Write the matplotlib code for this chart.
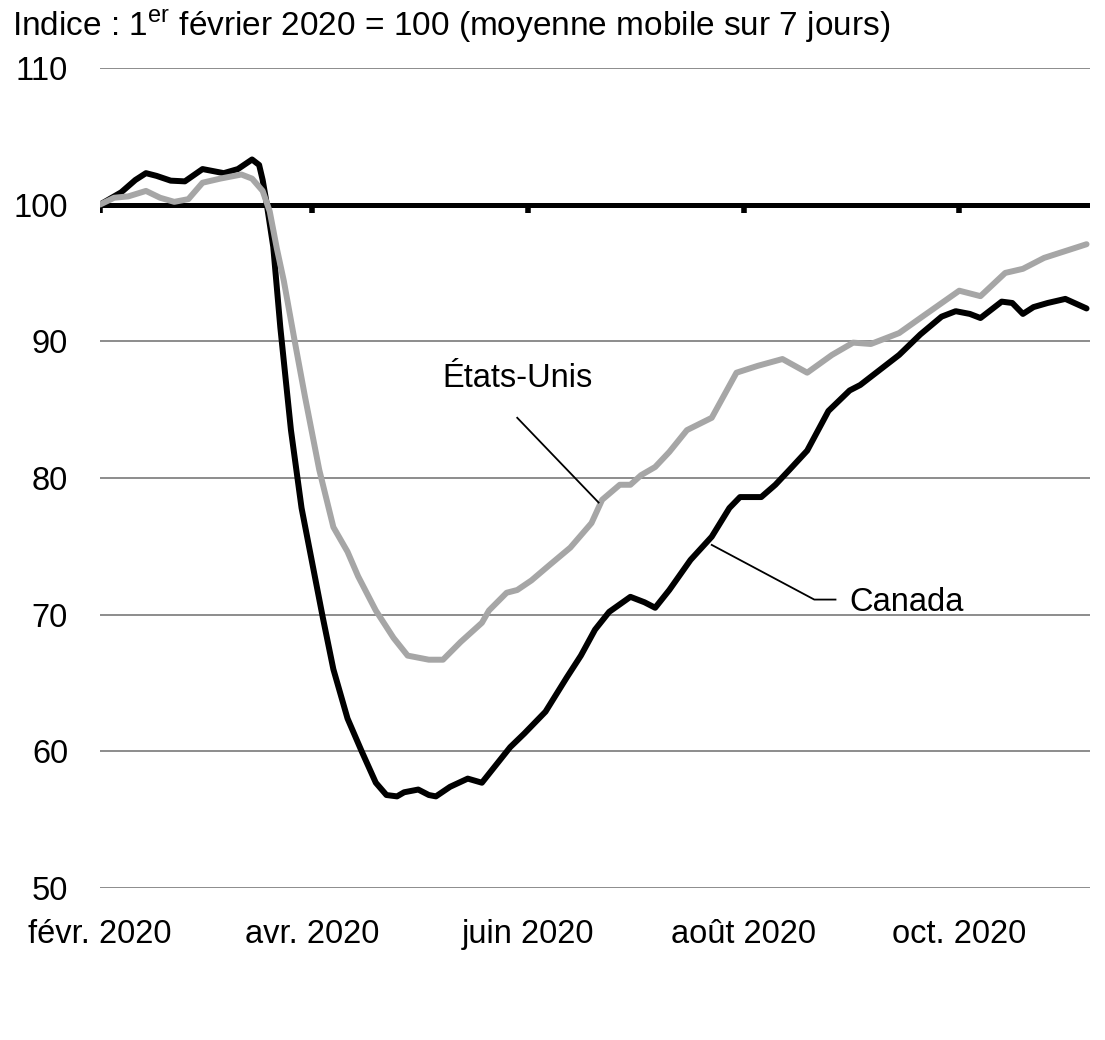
import pandas as pd
import matplotlib.pyplot as plt

plt.rcParams['font.family'] = ['Liberation Sans', 'DejaVu Sans']
plt.rcParams['mathtext.fontset'] = 'custom'
plt.rcParams['mathtext.rm'] = 'Liberation Sans'

# Canada, 7-day moving average (index: Feb 1 2020 = 100)
canada_dates = ["2020-02-01", "2020-02-07", "2020-02-11", "2020-02-14", "2020-02-17", "2020-02-21",
                "2020-02-25", "2020-03-01", "2020-03-07", "2020-03-11", "2020-03-15", "2020-03-17",
                "2020-03-18", "2020-03-19", "2020-03-21", "2020-03-23", "2020-03-26", "2020-03-29",
                "2020-04-01", "2020-04-04", "2020-04-07", "2020-04-11", "2020-04-15", "2020-04-19",
                "2020-04-22", "2020-04-25", "2020-04-27", "2020-05-01", "2020-05-04", "2020-05-06",
                "2020-05-10", "2020-05-15", "2020-05-19", "2020-05-23", "2020-05-27", "2020-05-31",
                "2020-06-06", "2020-06-12", "2020-06-16", "2020-06-20", "2020-06-24", "2020-06-30",
                "2020-07-04", "2020-07-07", "2020-07-11", "2020-07-17", "2020-07-23", "2020-07-28",
                "2020-07-31", "2020-08-06", "2020-08-10", "2020-08-14", "2020-08-19", "2020-08-25",
                "2020-08-31", "2020-09-03", "2020-09-09", "2020-09-14", "2020-09-20", "2020-09-26",
                "2020-09-30", "2020-10-04", "2020-10-07", "2020-10-13", "2020-10-16", "2020-10-19",
                "2020-10-22", "2020-10-26", "2020-10-31", "2020-11-06"]
canada_values = [100.0, 100.9, 101.8, 102.3, 102.1, 101.75,
                 101.7, 102.6, 102.3, 102.6, 103.3, 102.9,
                 101.8, 100.3, 96.9, 91.0, 83.5, 77.8,
                 73.8, 69.8, 66.0, 62.4, 60.0, 57.7,
                 56.8, 56.7, 57.0, 57.2, 56.8, 56.7,
                 57.4, 58.0, 57.7, 59.0, 60.3, 61.3,
                 62.9, 65.4, 67.0, 68.9, 70.2, 71.3,
                 70.9, 70.5, 71.8, 74.0, 75.7, 77.8,
                 78.6, 78.6, 79.5, 80.6, 82.0, 84.9,
                 86.4, 86.8, 88.0, 89.0, 90.5, 91.8,
                 92.2, 92.0, 91.7, 92.9, 92.8, 92.0,
                 92.5, 92.8, 93.1, 92.4]

# United States
us_dates = ["2020-02-01", "2020-02-05", "2020-02-09", "2020-02-14", "2020-02-18", "2020-02-22",
            "2020-02-26", "2020-03-01", "2020-03-06", "2020-03-12", "2020-03-15", "2020-03-18",
            "2020-03-20", "2020-03-22", "2020-03-24", "2020-03-27", "2020-03-30", "2020-04-03",
            "2020-04-07", "2020-04-11", "2020-04-14", "2020-04-19", "2020-04-24", "2020-04-28",
            "2020-05-04", "2020-05-08", "2020-05-13", "2020-05-16", "2020-05-19", "2020-05-21",
            "2020-05-26", "2020-05-29", "2020-06-02", "2020-06-07", "2020-06-13", "2020-06-19",
            "2020-06-22", "2020-06-27", "2020-06-30", "2020-07-03", "2020-07-07", "2020-07-11",
            "2020-07-16", "2020-07-23", "2020-07-30", "2020-08-05", "2020-08-12", "2020-08-19",
            "2020-08-26", "2020-09-01", "2020-09-06", "2020-09-09", "2020-09-14", "2020-09-20",
            "2020-10-01", "2020-10-07", "2020-10-14", "2020-10-19", "2020-10-25", "2020-10-31",
            "2020-11-06"]
us_values = [100.0, 100.5, 100.6, 101.0, 100.5, 100.2,
             100.4, 101.6, 101.9, 102.2, 101.9, 101.0,
             99.5, 96.8, 94.4, 90.1, 85.9, 80.6,
             76.4, 74.6, 72.8, 70.3, 68.3, 67.0,
             66.7, 66.7, 68.0, 68.7, 69.4, 70.3,
             71.6, 71.8, 72.5, 73.6, 74.9, 76.7,
             78.4, 79.5, 79.5, 80.2, 80.8, 81.9,
             83.5, 84.4, 87.7, 88.2, 88.7, 87.7,
             89.0, 89.9, 89.8, 90.1, 90.6, 91.7,
             93.7, 93.3, 95.0, 95.3, 96.1, 96.6,
             97.1]

tick_dates = ["2020-02-01", "2020-04-01", "2020-06-01", "2020-08-01", "2020-10-01"]
tick_labels = ["févr. 2020", "avr. 2020", "juin 2020", "août 2020", "oct. 2020"]
y_ticks = [50, 60, 70, 80, 90, 100, 110]

canada = pd.Series(canada_values, index=pd.to_datetime(canada_dates))
us = pd.Series(us_values, index=pd.to_datetime(us_dates))
ticks = pd.to_datetime(tick_dates)

fig = plt.figure(figsize=(11.05, 10.4), dpi=100)
ax = fig.add_axes([0.0905, 0.1462, 0.896, 0.7885])

# gridlines, with the 100 baseline in heavy black
for y in y_ticks:
    if y == 100:
        continue
    ax.axhline(y, color='#8c8c8c', lw=1.4, zorder=1)
ax.axhline(100, color='black', lw=3.6, zorder=2)
ax.vlines(ticks, 99.4, 100, color='black', lw=4, zorder=2)

ax.plot(canada.index, canada.values, color='black', lw=4.3, zorder=3,
        solid_joinstyle='round', solid_capstyle='round')
ax.plot(us.index, us.values, color='#a6a6a6', lw=4.3, zorder=4,
        solid_joinstyle='round', solid_capstyle='round')

ax.set_xlim(pd.Timestamp("2020-02-01"), pd.Timestamp("2020-11-07"))
ax.set_ylim(50, 110)
ax.set_yticks(y_ticks)
ax.set_xticks(ticks)
ax.set_xticklabels(tick_labels)
ax.tick_params(axis='both', length=0, labelsize=23.5)
ax.tick_params(axis='x', pad=22)
ax.tick_params(axis='y', pad=23)
for s in ax.spines.values():
    s.set_visible(False)

# series labels with leader lines
ax.plot([pd.Timestamp("2020-05-29"), pd.Timestamp("2020-06-21")], [84.4, 78.2],
        color='black', lw=1.3, zorder=5)
ax.text(pd.Timestamp("2020-05-29"), 87.3, "États-Unis", fontsize=23.5,
        ha='center', va='center')
ax.plot([pd.Timestamp("2020-07-23"), pd.Timestamp("2020-08-21"), pd.Timestamp("2020-08-27")],
        [75.1, 71.1, 71.1], color='black', lw=1.3, zorder=5)
ax.text(pd.Timestamp("2020-08-31"), 70.9, "Canada", fontsize=23.5, ha='left', va='center')

fig.text(0.011, 0.975, "Indice : 1$^{\\mathrm{er}}$ février 2020 = 100 (moyenne mobile sur 7 jours)",
         fontsize=24, ha='left', va='center')

fig.savefig("out.png", dpi=100)
